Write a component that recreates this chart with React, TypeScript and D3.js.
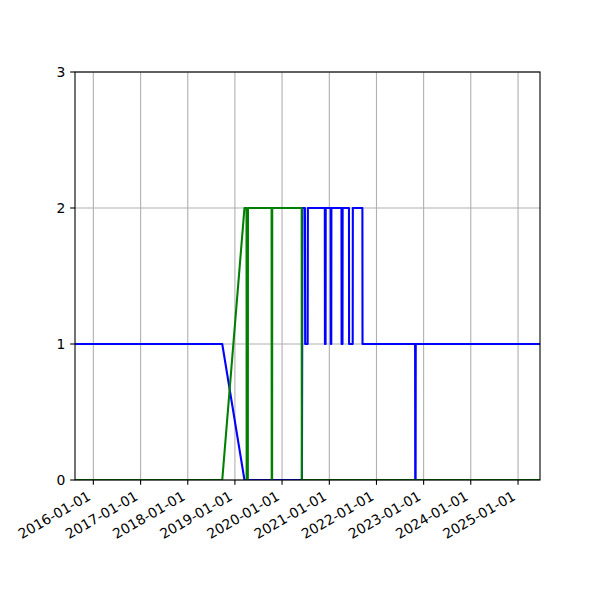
import { useMemo } from 'react';
import * as d3 from 'd3';

// series: dates where the line changes, and the value there
const blueDates = [
  '2015-08-12', '2018-09-25', '2019-03-16', '2020-06-03', '2020-06-07',
  '2020-06-26', '2020-06-28', '2020-07-17', '2020-07-19',
  '2020-11-27', '2020-11-28', '2020-12-03', '2020-12-04',
  '2021-01-12', '2021-01-13', '2021-01-16', '2021-01-17',
  '2021-04-05', '2021-04-06', '2021-04-13', '2021-04-14',
  '2021-06-02', '2021-06-03', '2021-07-01', '2021-07-02',
  '2021-09-14', '2021-09-15',
  '2022-10-27', '2022-10-28', '2022-10-31', '2022-11-01',
  '2025-06-20',
];
const blueValues = [
  1, 1, 0, 0, 2,
  2, 1, 1, 2,
  2, 1, 1, 2,
  2, 1, 1, 2,
  2, 1, 1, 2,
  2, 1, 1, 2,
  2, 1,
  1, 0, 0, 1,
  1,
];

const greenDates = [
  '2015-08-12', '2018-09-25', '2019-03-16',
  '2019-04-01', '2019-04-02', '2019-04-11', '2019-04-12',
  '2019-10-12', '2019-10-13', '2019-10-16', '2019-10-17',
  '2020-06-01', '2020-06-02', '2025-06-20',
];
const greenValues = [
  0, 0, 2,
  2, 0, 0, 2,
  2, 0, 0, 2,
  2, 0, 0,
];

const xTickLabels = [
  '2016-01-01', '2017-01-01', '2018-01-01', '2019-01-01', '2020-01-01',
  '2021-01-01', '2022-01-01', '2023-01-01', '2024-01-01', '2025-01-01',
];
const yTicks = [0, 1, 2, 3];
const xDomain = ['2015-08-12', '2025-06-20'];

const W = 600;
const H = 600;
const margin = { top: 72, right: 60, bottom: 120, left: 75 };
const font = '"DejaVu Sans", sans-serif';
const fontSize = 13.9;
const tickLen = 4.86;
const gridColor = '#b0b0b0';

const parse = d3.utcParse('%Y-%m-%d');

type Pt = { date: Date; value: number };

export default function App() {
  const x = useMemo(
    () =>
      d3
        .scaleUtc()
        .domain(xDomain.map((d) => parse(d)!))
        .range([margin.left, W - margin.right]),
    [],
  );
  const y = useMemo(
    () => d3.scaleLinear().domain([0, 3]).range([H - margin.bottom, margin.top]),
    [],
  );

  const line = d3
    .line<Pt>()
    .x((d) => x(d.date))
    .y((d) => y(d.value));

  const blue: Pt[] = blueDates.map((d, i) => ({ date: parse(d)!, value: blueValues[i] }));
  const green: Pt[] = greenDates.map((d, i) => ({ date: parse(d)!, value: greenValues[i] }));

  const x0 = margin.left;
  const x1 = W - margin.right;
  const y0 = H - margin.bottom;
  const y1 = margin.top;

  return (
    <svg
      width={W}
      height={H}
      style={{ position: 'absolute', left: 0, top: 0, background: '#fff' }}
    >
      <rect x={0} y={0} width={W} height={H} fill="#fff" />
      <defs>
        <clipPath id="plot">
          <rect x={x0} y={y1} width={x1 - x0} height={y0 - y1} />
        </clipPath>
      </defs>
      {/* grid */}
      <g stroke={gridColor} strokeWidth={1.1}>
        {xTickLabels.map((t) => {
          const px = x(parse(t)!);
          return <line key={t} x1={px} x2={px} y1={y1} y2={y0} />;
        })}
        {yTicks.map((t) => (
          <line key={t} x1={x0} x2={x1} y1={y(t)} y2={y(t)} />
        ))}
      </g>
      {/* series */}
      <g clipPath="url(#plot)" fill="none" strokeWidth={2.08} strokeLinejoin="round">
        <path d={line(blue)!} stroke="#0000ff" />
        <path d={line(green)!} stroke="#008000" />
      </g>
      {/* frame */}
      <rect
        x={x0}
        y={y1}
        width={x1 - x0}
        height={y0 - y1}
        fill="none"
        stroke="#000"
        strokeWidth={1.1}
      />
      {/* x axis */}
      <g fontFamily={font} fontSize={fontSize} fill="#000">
        {xTickLabels.map((t) => {
          const px = x(parse(t)!);
          return (
            <g key={t}>
              <line x1={px} x2={px} y1={y0} y2={y0 + tickLen} stroke="#000" strokeWidth={1.1} />
              <text
                textAnchor="end"
                transform={`translate(${px - 1.6},${y0 + 19}) rotate(-30)`}
              >
                {t}
              </text>
            </g>
          );
        })}
      </g>
      {/* y axis */}
      <g fontFamily={font} fontSize={fontSize} fill="#000">
        {yTicks.map((t) => (
          <g key={t}>
            <line x1={x0 - tickLen} x2={x0} y1={y(t)} y2={y(t)} stroke="#000" strokeWidth={1.1} />
            <text x={x0 - tickLen - 4.86} y={y(t)} textAnchor="end" dominantBaseline="central">
              {t}
            </text>
          </g>
        ))}
      </g>
    </svg>
  );
}
